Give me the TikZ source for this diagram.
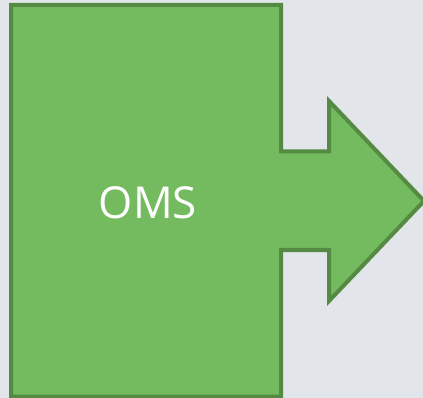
\documentclass[tikz,border=0pt]{standalone}
\usepackage{fontspec}
\setmainfont{Open Sans}
\definecolor{bgc}{RGB}{226,230,234}
\definecolor{fillc}{RGB}{116,187,95}
\definecolor{strokec}{RGB}{84,138,66}
\begin{document}
\begin{tikzpicture}[x=1pt,y=-1pt,
  shapestyle/.style={fill=fillc,draw=strokec,line width=4pt,line join=miter},
  labelstyle/.style={text=white,font=\fontsize{44}{50}\selectfont,inner sep=0pt}]
\fill[bgc] (0,0) rectangle (423,398);
\useasboundingbox (0,0) rectangle (423,398);
\draw[shapestyle] (11,5) -- (281,5) -- (281,151.5) -- (329,151.5) -- (329,101) -- (424,201)
  -- (329,301) -- (329,250) -- (281,250) -- (281,396.5) -- (11,396.5) -- cycle;
\node[labelstyle] (oms) at (148,202.5) {OMS};
\end{tikzpicture}
\end{document}
